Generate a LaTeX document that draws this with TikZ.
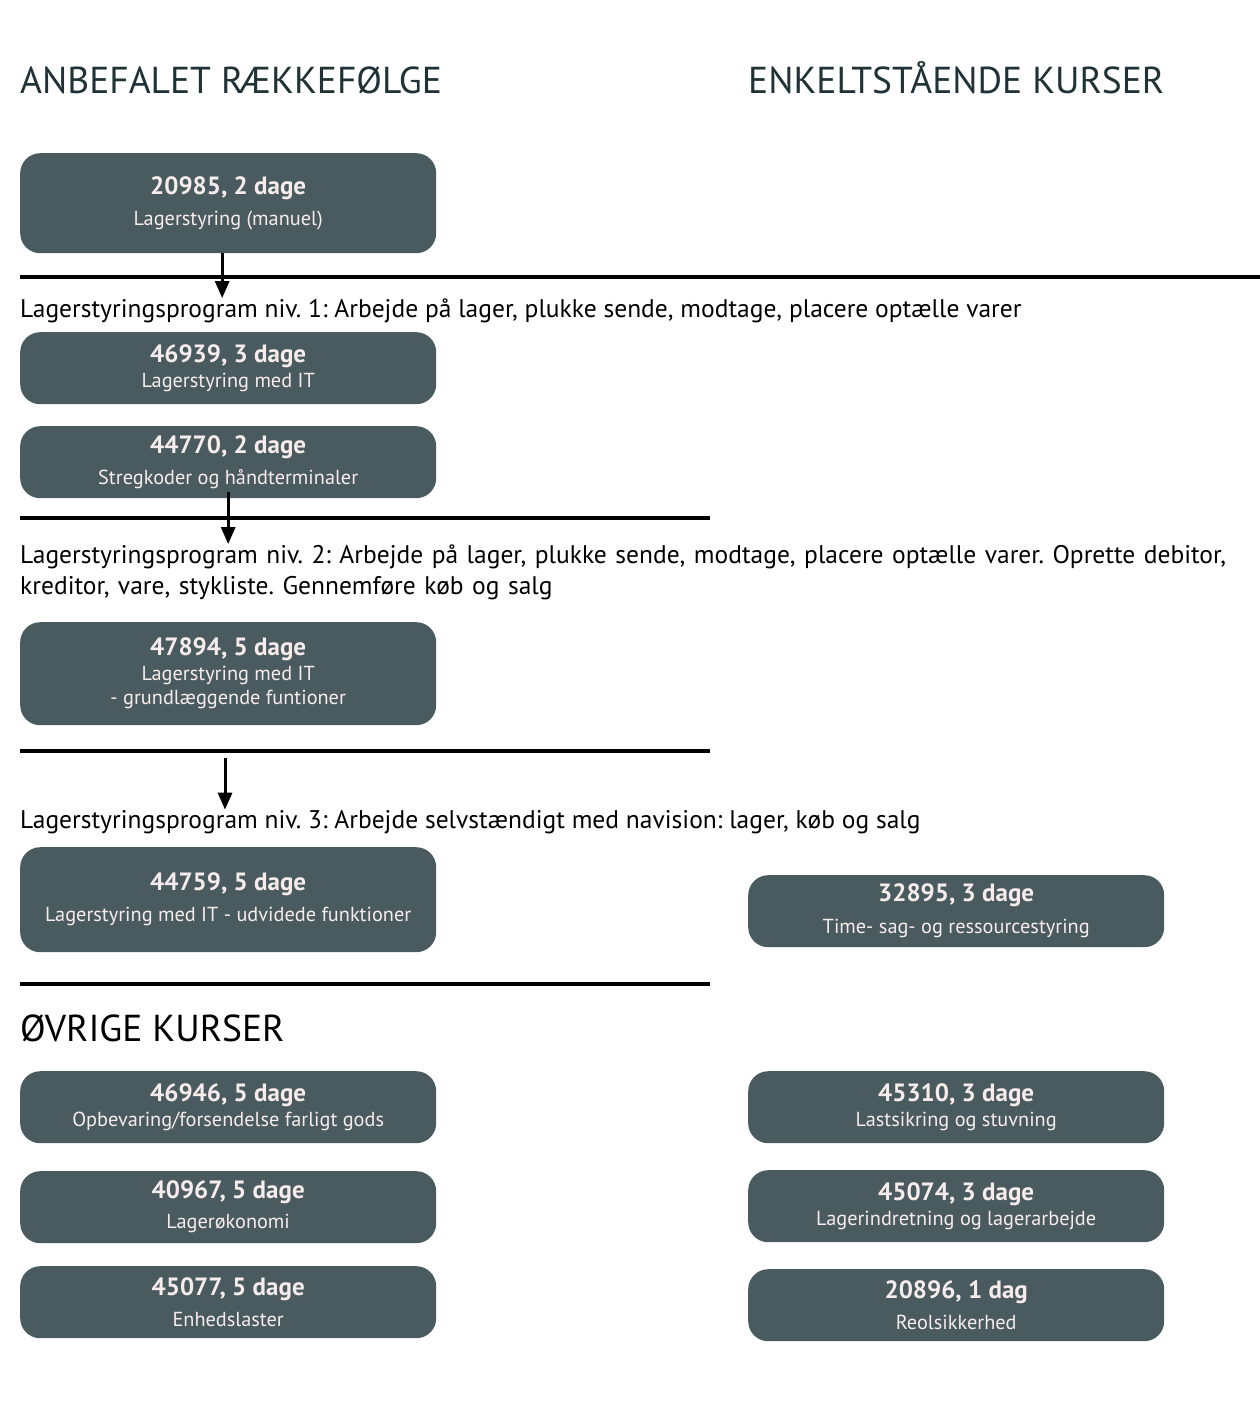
\documentclass[tikz,border=0pt]{standalone}
\usepackage{fontspec}
\setmainfont{PT Sans}
\usetikzlibrary{arrows.meta,positioning}
\definecolor{boxgray}{HTML}{4A5B5F}
\definecolor{boxtext}{HTML}{F7ECEC}
\definecolor{headgray}{HTML}{1F3336}
\newcommand{\nr}[1]{{\fontsize{25}{28}\selectfont\bfseries #1}}
\frenchspacing

\tikzset{
  kursus/.style={fill=boxgray, rounded corners=20pt, minimum width=416pt,
    minimum height=72pt, anchor=north west, inner sep=0pt, text=boxtext,
    align=center, font=\fontsize{20.3}{24}\selectfont},
  niveau/.style={anchor=base west, inner sep=0pt, font=\fontsize{25.5}{31}\selectfont},
  overskrift/.style={anchor=base west, inner sep=0pt, font=\fontsize{37.5}{40}\selectfont},
  skillelinje/.style={line width=4pt},
  pil/.style={line width=3pt, -{Triangle[length=17pt,width=14pt]}}
}

\begin{document}
\begin{tikzpicture}[x=1pt,y=-1pt]
  \useasboundingbox (0,0) rectangle (1260,1418);

  % overskrifter
  \node[overskrift, text=headgray] (h1) at (20,94) {ANBEFALET RÆKKEFØLGE};
  \node[overskrift, text=headgray] (h2) at (748,94) {ENKELTSTÅENDE KURSER};

  % anbefalet raekkefoelge
  \node[kursus, minimum height=100pt] (b1) at (20,153) {\nr{20985, 2 dage}\\[7pt]Lagerstyring (manuel)};
  \draw[skillelinje] (20,277) -- (1260,277);
  \node[niveau] (t1) at (20,317) {Lagerstyringsprogram niv. 1: Arbejde på lager, plukke sende, modtage, placere optælle varer};
  \draw[pil] ([xshift=-6pt]b1.south) -- ([xshift=-6pt]b1.south |- t1.north);

  \node[kursus] (b2) at (20,332) {\nr{46939, 3 dage}\\[1pt]Lagerstyring med IT};
  \node[kursus] (b3) at (20,426) {\nr{44770, 2 dage}\\[7pt]Stregkoder og håndterminaler};
  \draw[skillelinje] (20,518) -- (710,518);
  \node[niveau, text width=1240pt, align=left] (t2) at (20,563)
    {Lagerstyringsprogram niv. 2: Arbejde på lager, plukke sende, modtage, placere optælle varer. Oprette debitor,\\kreditor, vare, stykliste. Gennemføre køb og salg};
  \draw[pil] ([yshift=6pt]b3.south) -- (b3.south |- t2.north);

  \node[kursus, minimum height=103pt] (b4) at (20,622) {\nr{47894, 5 dage}\\[1pt]Lagerstyring med IT\\- grundlæggende funtioner};
  \draw[skillelinje] (20,751) -- (710,751);
  \coordinate (p3) at (225,758);
  \node[niveau] (t3) at (20,828) {Lagerstyringsprogram niv. 3: Arbejde selvstændigt med navision: lager, køb og salg};
  \draw[pil] (p3) -- (p3 |- t3.north);

  \node[kursus, minimum height=105pt] (b5) at (20,847) {\nr{44759, 5 dage}\\[7pt]Lagerstyring med IT - udvidede funktioner};
  \draw[skillelinje] (20,984) -- (710,984);

  % enkeltstaaende kurser
  \node[kursus] (r1) at (748,875) {\nr{32895, 3 dage}\\[8pt]Time- sag- og ressourcestyring};

  % oevrige kurser
  \node[overskrift] (h3) at (20,1041) {ØVRIGE KURSER};
  \node[kursus] (l6) at (20,1071) {\nr{46946, 5 dage}\\[1pt]Opbevaring/forsendelse farligt gods};
  \node[kursus] (l7) at (20,1171) {\nr{40967, 5 dage}\\[6pt]Lagerøkonomi};
  \node[kursus] (l8) at (20,1266) {\nr{45077, 5 dage}\\[7pt]Enhedslaster};
  \node[kursus] (r2) at (748,1071) {\nr{45310, 3 dage}\\[1pt]Lastsikring og stuvning};
  \node[kursus] (r3) at (748,1170) {\nr{45074, 3 dage}\\[1pt]Lagerindretning og lagerarbejde};
  \node[kursus] (r4) at (748,1269) {\nr{20896, 1 dag}\\[7pt]Reolsikkerhed};
\end{tikzpicture}
\end{document}
